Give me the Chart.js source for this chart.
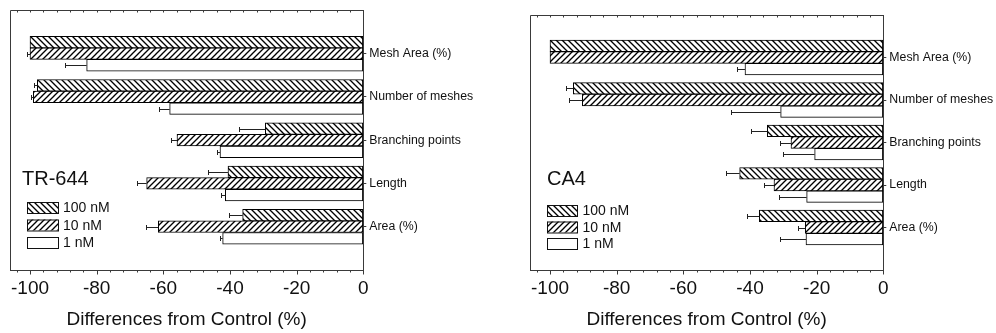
<!DOCTYPE html>
<html>
<head>
<meta charset="utf-8">
<script src="https://cdn.jsdelivr.net/npm/chart.js@4"></script>
<style>
  html, body { margin: 0; padding: 0; background: #fff; }
  #wrap { position: relative; width: 996px; height: 333px; }
  .panel { position: absolute; top: 0; width: 498px; height: 333px; }
</style>
</head>
<body>
<div id="wrap">
  <div class="panel" style="left:0"><canvas id="c1" width="498" height="333"></canvas></div>
  <div class="panel" style="left:498px"><canvas id="c2" width="498" height="333"></canvas></div>
</div>
<script>
// Endpoints (top to bottom) and concentrations
const categories = ['Mesh Area (%)', 'Number of meshes', 'Branching points', 'Length', 'Area (%)'];
const seriesLabels = ['100 nM', '10 nM', '1 nM'];

// TR-644: mean difference from control (%) and error
const tr644_100nM = [-100, -97.8, -29.4, -40.6, -36.2];
const tr644_10nM  = [-100, -99.0, -55.9, -65.0, -61.5];
const tr644_1nM   = [-83.0, -58.1, -43.0, -41.4, -42.2];
const tr644_100nM_err = [0, 1.0, 7.8, 5.9, 4.0];
const tr644_10nM_err  = [0.8, 0.8, 1.9, 2.8, 3.7];
const tr644_1nM_err   = [6.4, 3.3, 0.8, 1.4, 0.8];

// CA4: mean difference from control (%) and error
const ca4_100nM = [-100, -93.0, -34.8, -43.1, -37.2];
const ca4_10nM  = [-100, -90.3, -27.7, -32.8, -23.4];
const ca4_1nM   = [-41.5, -30.8, -20.6, -23.0, -23.2];
const ca4_100nM_err = [0, 2.2, 4.8, 4.2, 3.7];
const ca4_10nM_err  = [0, 4.1, 3.3, 3.1, 2.3];
const ca4_1nM_err   = [2.3, 15.0, 9.5, 8.2, 7.8];

// Value axis ticks: minor every 4, labelled every 20
const xTickValues = [-104, -100, -96, -92, -88, -84, -80, -76, -72, -68, -64, -60, -56,
  -52, -48, -44, -40, -36, -32, -28, -24, -20, -16, -12, -8, -4, 0];
const xLabelValues = [-100, -80, -60, -40, -20, 0];

const FONT = "'Liberation Sans', Arial, sans-serif";
const AXIS_COLOR = '#3a3a3a';

function hatch(dir) {
  const s = 6;
  const c = document.createElement('canvas');
  c.width = s; c.height = s;
  const g = c.getContext('2d');
  g.fillStyle = '#fff';
  g.fillRect(0, 0, s, s);
  g.strokeStyle = '#000';
  g.lineWidth = 1.35;
  g.beginPath();
  for (let k = -1; k <= 1; k++) {
    if (dir === 'back') {
      g.moveTo(k * s - 1, -1); g.lineTo(k * s + s + 1, s + 1);
    } else {
      g.moveTo(k * s - 1, s + 1); g.lineTo(k * s + s + 1, -1);
    }
  }
  g.stroke();
  return g.createPattern(c, 'repeat');
}

// Error whiskers extending from each bar end toward more negative values
const errorBars = {
  id: 'errorBars',
  afterDatasetsDraw(chart) {
    const ctx = chart.ctx, xs = chart.scales.x;
    ctx.save();
    ctx.strokeStyle = '#222';
    ctx.lineWidth = 1;
    chart.data.datasets.forEach((ds, i) => {
      const meta = chart.getDatasetMeta(i);
      meta.data.forEach((bar, j) => {
        const v = ds.data[j], e = ds.err[j];
        if (v == null || !e) return;
        const x0 = xs.getPixelForValue(v);
        const x1 = Math.round(xs.getPixelForValue(v - e)) + 0.5;
        const y = Math.round(bar.y) + 0.5;
        ctx.beginPath();
        ctx.moveTo(x0, y); ctx.lineTo(x1, y);
        ctx.moveTo(x1, y - 2.5); ctx.lineTo(x1, y + 2.5);
        ctx.stroke();
      });
    });
    ctx.restore();
  }
};

// Frame (left/top edges), tick marks, panel name and legend
const frame = {
  id: 'frame',
  afterDraw(chart, args, o) {
    const ctx = chart.ctx, a = chart.chartArea, xs = chart.scales.x;
    ctx.save();
    ctx.strokeStyle = AXIS_COLOR;
    ctx.lineWidth = 1;
    const L = Math.round(a.left) + 0.5, T = Math.round(a.top) + 0.5, B = Math.round(a.bottom) + 0.5;
    ctx.beginPath();
    ctx.moveTo(L, B); ctx.lineTo(L, T); ctx.lineTo(Math.round(a.right) + 0.5, T);
    xTickValues.forEach(v => {
      const x = Math.round(xs.getPixelForValue(v)) + 0.5;
      const major = xLabelValues.includes(v);
      ctx.moveTo(x, B); ctx.lineTo(x, B + (major ? 4 : 2));
      ctx.moveTo(x, T); ctx.lineTo(x, T + 2);
    });
    ctx.stroke();

    ctx.fillStyle = '#111';
    ctx.textBaseline = 'alphabetic';
    ctx.font = '20px ' + FONT;
    ctx.fillText(o.name, o.nameX, o.nameY);

    ctx.font = '14px ' + FONT;
    ctx.textBaseline = 'middle';
    chart.data.datasets.forEach((ds, i) => {
      const y = o.legendTops[i];
      ctx.fillStyle = ds.backgroundColor;
      ctx.fillRect(o.legendX, y, o.legendW, o.legendH);
      ctx.strokeStyle = '#111';
      ctx.strokeRect(o.legendX + 0.5, y + 0.5, o.legendW, o.legendH);
      ctx.fillStyle = '#111';
      ctx.fillText(ds.label, o.textX, y + o.legendH / 2 + 1);
    });
    ctx.restore();
  }
};

function makeChart(id, series, errs, lay) {
  const fills = [hatch('back'), hatch('fwd'), '#ffffff'];
  const pad = arr => [null, ...arr, null];
  return new Chart(document.getElementById(id), {
    type: 'bar',
    data: {
      labels: ['', ...categories, ''],
      datasets: seriesLabels.map((name, i) => ({
        label: name,
        data: pad(series[i]),
        err: pad(errs[i]),
        backgroundColor: fills[i],
        borderColor: '#000',
        borderWidth: 1,
        borderSkipped: false,
        barThickness: 11.6
      }))
    },
    options: {
      indexAxis: 'y',
      responsive: false,
      animation: false,
      layout: { padding: { left: lay.left, top: lay.top, right: 0, bottom: 0 } },
      plugins: {
        legend: { display: false },
        tooltip: { enabled: false },
        frame: lay.frame
      },
      scales: {
        x: {
          type: 'linear',
          position: 'bottom',
          min: -106,
          max: 0,
          afterBuildTicks: s => { s.ticks = xTickValues.map(v => ({ value: v })); },
          afterFit: s => { s.height = 63; },
          grid: { drawOnChartArea: false, drawTicks: false },
          border: { display: true, color: AXIS_COLOR, width: 1 },
          ticks: {
            autoSkip: false,
            maxRotation: 0,
            padding: 7,
            color: '#111',
            font: { family: FONT, size: 19 },
            callback: v => (xLabelValues.includes(v) ? String(v) : '')
          },
          title: {
            display: true,
            text: 'Differences from Control (%)',
            color: '#111',
            font: { family: FONT, size: 19 },
            padding: { top: 0, bottom: 2 }
          }
        },
        y: {
          type: 'category',
          position: 'right',
          offset: false,
          afterFit: s => { s.width = lay.yWidth; },
          grid: {
            offset: false,
            drawOnChartArea: false,
            drawTicks: true,
            tickLength: 3,
            tickColor: c => (c.index === 0 || c.index === 6 ? 'rgba(0,0,0,0)' : AXIS_COLOR)
          },
          border: { display: true, color: AXIS_COLOR, width: 1 },
          ticks: {
            autoSkip: false,
            padding: 3,
            color: '#111',
            font: { family: FONT, size: 12.3 }
          }
        }
      }
    },
    plugins: [errorBars, frame]
  });
}

makeChart('c1',
  [tr644_100nM, tr644_10nM, tr644_1nM],
  [tr644_100nM_err, tr644_10nM_err, tr644_1nM_err],
  {
    left: 10, top: 10, yWidth: 134.7,
    frame: { name: 'TR-644', nameX: 22, nameY: 185, legendX: 27, legendTops: [202, 219.5, 237], legendW: 31, legendH: 11, textX: 63 }
  });

makeChart('c2',
  [ca4_100nM, ca4_10nM, ca4_1nM],
  [ca4_100nM_err, ca4_10nM_err, ca4_1nM_err],
  {
    left: 32, top: 15, yWidth: 112.7,
    frame: { name: 'CA4', nameX: 49, nameY: 184.5, legendX: 49, legendTops: [205, 221.5, 238], legendW: 30, legendH: 11, textX: 84.5 }
  });
</script>
</body>
</html>
